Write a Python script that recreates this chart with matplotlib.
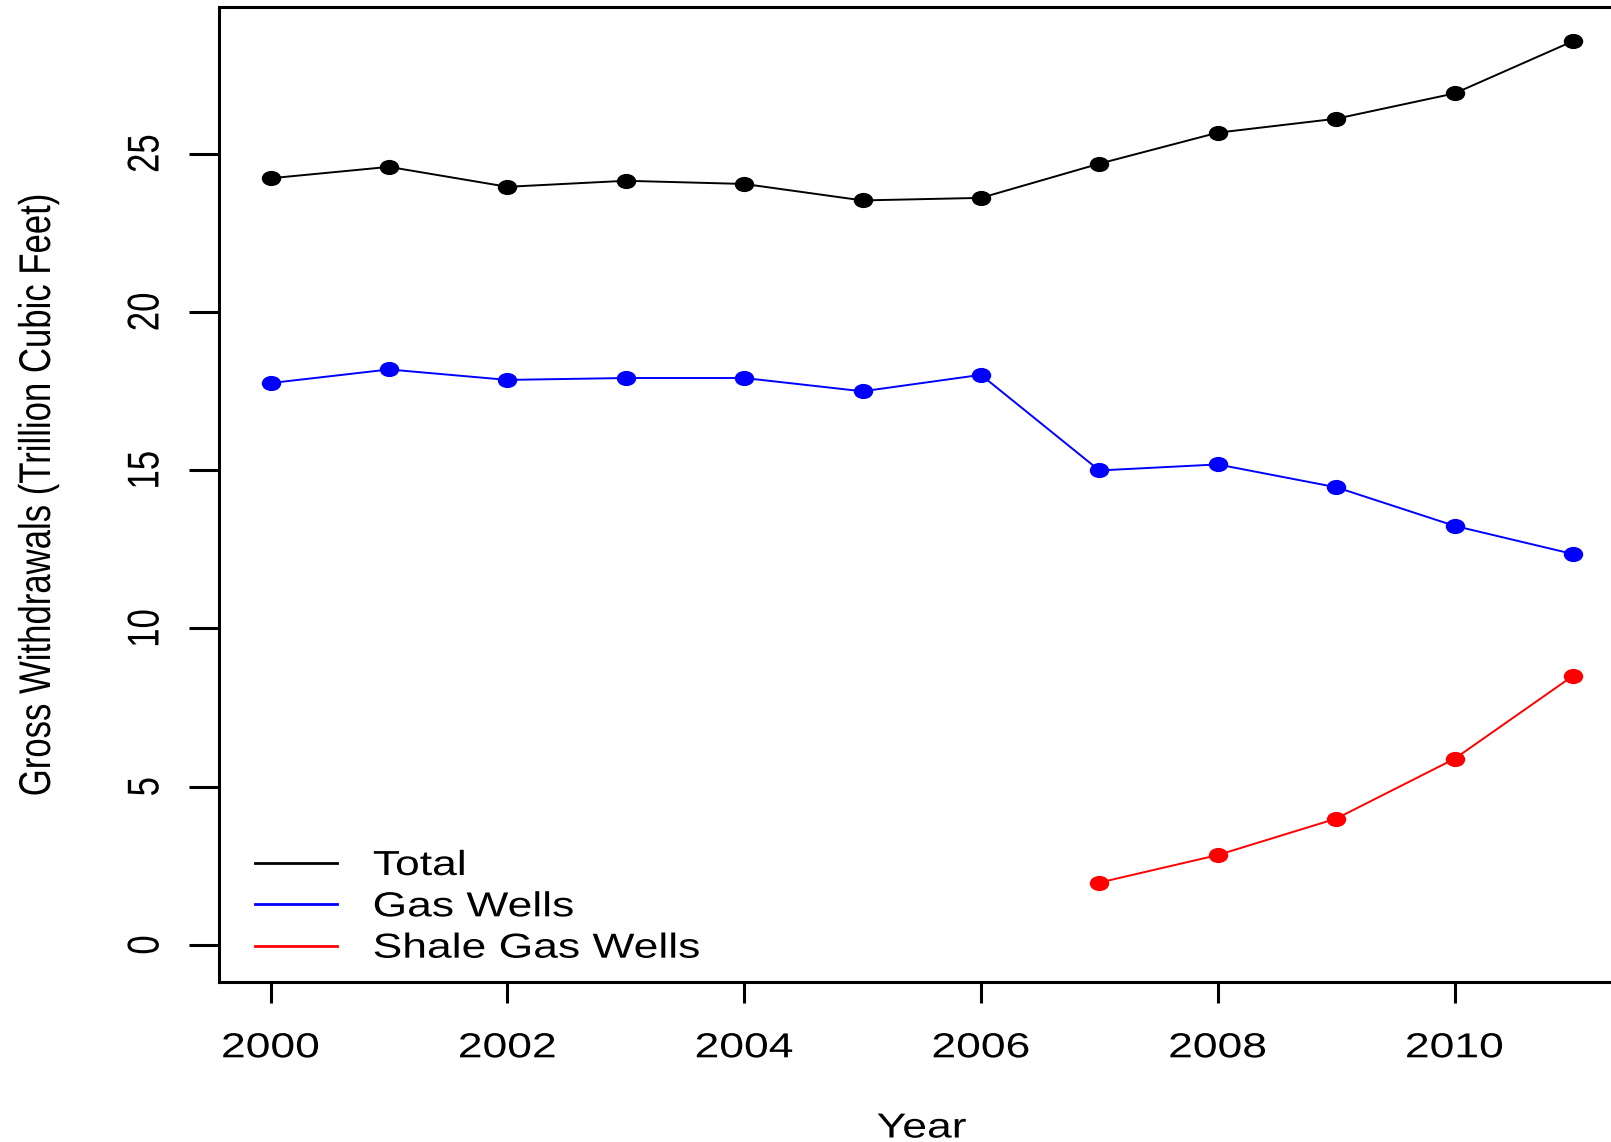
import matplotlib
matplotlib.use("Agg")
import matplotlib.pyplot as plt
from matplotlib import patheffects
from matplotlib.transforms import Affine2D
from matplotlib.path import Path
from matplotlib.lines import Line2D

# ---------------- data ----------------
years = [2000, 2001, 2002, 2003, 2004, 2005, 2006, 2007, 2008, 2009, 2010, 2011]
total = [24.22, 24.58, 23.95, 24.14, 24.04, 23.52, 23.60, 24.68, 25.66, 26.10, 26.90, 28.55]
gas_wells = [17.75, 18.18, 17.85, 17.91, 17.91, 17.49, 18.01, 14.99, 15.18, 14.46, 13.24, 12.35]
shale_years = [2007, 2008, 2009, 2010, 2011]
shale = [1.97, 2.84, 3.99, 5.88, 8.50]

x_ticks = [2000, 2002, 2004, 2006, 2008, 2010]
y_ticks = [0, 5, 10, 15, 20, 25]
series_labels = ["Total", "Gas Wells", "Shale Gas Wells"]
series_colors = ["#000000", "#0000FF", "#FF0000"]

XSTRETCH = 1.28
FONT = "Liberation Sans"
FS = 25


class HStretch(patheffects.AbstractPathEffect):
    """Draw text stretched horizontally (the reference image is widened)."""
    def __init__(self, sx, anchor="center"):
        super().__init__()
        self.sx = sx
        self.anchor = anchor

    def draw_path(self, renderer, gc, tpath, affine, rgbFace=None):
        bb = tpath.get_extents(affine)
        if self.anchor == "left":
            x0 = bb.x0
        elif self.anchor == "right":
            x0 = bb.x1
        else:
            x0 = 0.5 * (bb.x0 + bb.x1)
        t = affine + Affine2D().translate(-x0, 0).scale(self.sx, 1.0).translate(x0, 0)
        renderer.draw_path(gc, tpath, t, rgbFace)


W, H = 1611, 1142
fig = plt.figure(figsize=(W / 100, H / 100), dpi=100)
ax_left, ax_right, ax_top, ax_bottom = 218.5, 1625.0, 7.0, 982.0
ax = fig.add_axes([ax_left / W, 1 - ax_bottom / H, (ax_right - ax_left) / W, (ax_bottom - ax_top) / H])

ellipse = Path.unit_circle().transformed(Affine2D().scale(1.28, 1.0))

data_sets = [(years, total), (years, gas_wells), (shale_years, shale)]
for (xs, ys), col in zip(data_sets, series_colors):
    ax.plot(xs, ys, color=col, lw=1.4, marker=ellipse, markersize=14,
            markerfacecolor=col, markeredgecolor=col, markeredgewidth=0, clip_on=False)

ax.set_xlim(1999.56, 2011.44)
ax.set_ylim(-1.17, 29.63)

for s in ["left", "top", "bottom"]:
    ax.spines[s].set_linewidth(2.2)
ax.spines["right"].set_visible(False)

ax.set_xticks(x_ticks)
ax.set_xticklabels([str(v) for v in x_ticks], fontfamily=FONT, fontsize=FS)
ax.set_yticks(y_ticks)
ax.set_yticklabels([str(v) for v in y_ticks], fontfamily=FONT, fontsize=FS)
ax.tick_params(axis="x", length=15, width=2.2, pad=20.5, direction="out")
ax.tick_params(axis="y", length=21.6, width=2.2, pad=19, direction="out")

for t in ax.xaxis.get_major_ticks():
    t.label1.set_path_effects([HStretch(XSTRETCH)])
for t in ax.yaxis.get_major_ticks():
    t.label1.set_rotation(90)
    t.label1.set_verticalalignment("center")
    t.label1.set_path_effects([HStretch(XSTRETCH)])

ax.set_xlabel("Year", fontfamily=FONT, fontsize=FS, va="center")
ax.xaxis.set_label_coords(0.5, -(1128 - ax_bottom) / (ax_bottom - ax_top))
ax.xaxis.label.set_path_effects([HStretch(XSTRETCH)])

ax.set_ylabel("Gross Withdrawals (Trillion Cubic Feet)", fontfamily=FONT, fontsize=FS, va="center")
ax.yaxis.set_label_coords((38 - ax_left) / (ax_right - ax_left), 0.5)
ax.yaxis.label.set_path_effects([HStretch(XSTRETCH)])

handles = [Line2D([], [], color=c, lw=2.0) for c in series_colors]
leg = ax.legend(handles, series_labels, loc="upper left",
                bbox_to_anchor=((255 - ax_left) / (ax_right - ax_left), (ax_bottom - 849) / (ax_bottom - ax_top)),
                frameon=False, borderpad=0, borderaxespad=0, handlelength=2.36,
                handletextpad=1.04, labelspacing=0.24,
                prop={"family": FONT, "size": FS})
for t in leg.get_texts():
    t.set_path_effects([HStretch(XSTRETCH, anchor="left")])

fig.savefig("out.png", dpi=100)
